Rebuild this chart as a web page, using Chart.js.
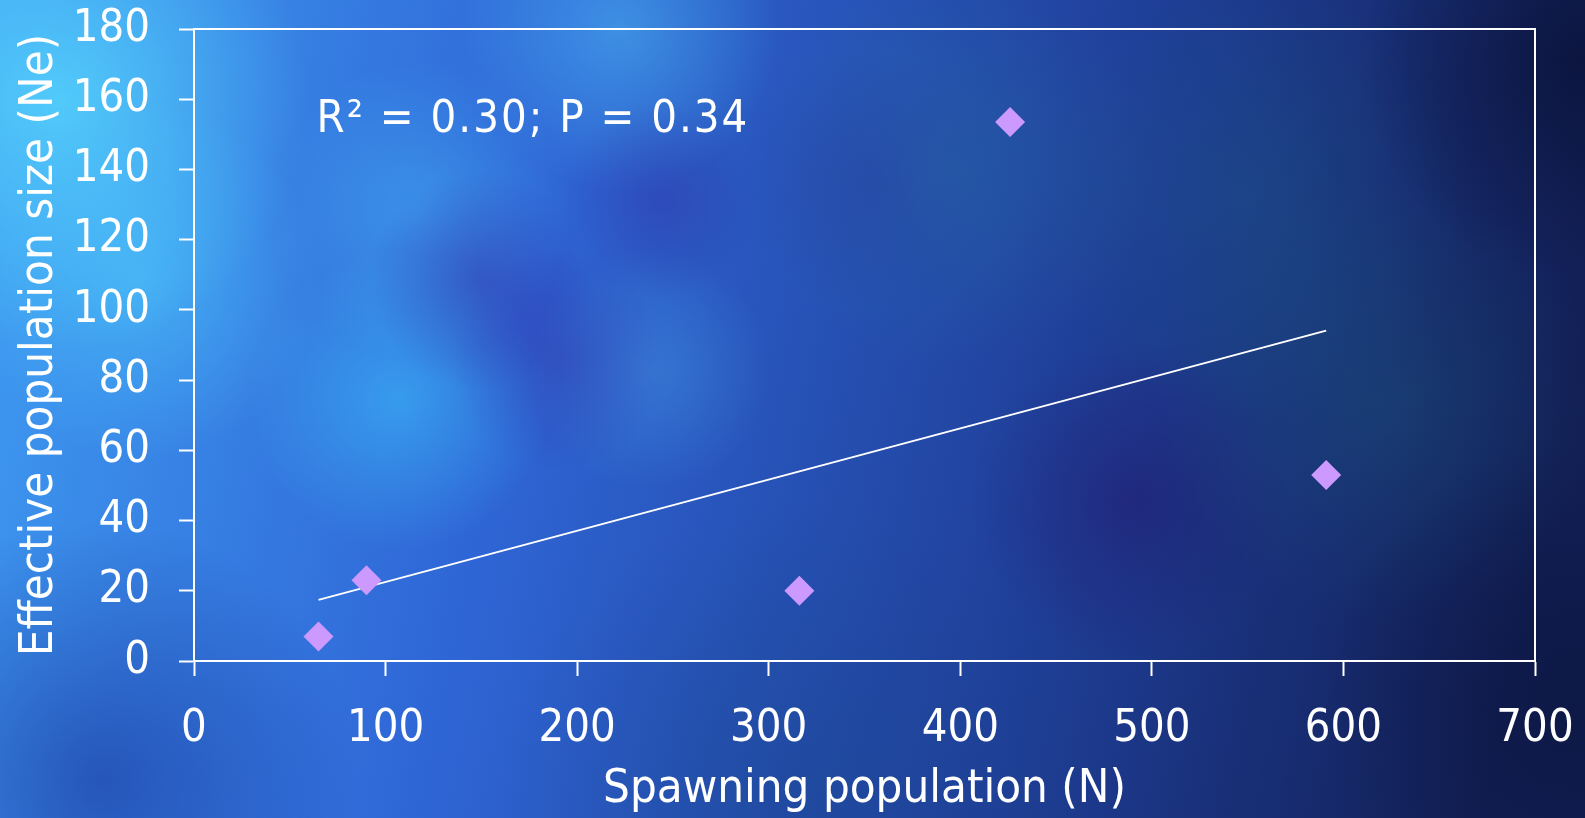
<!DOCTYPE html>
<html>
<head>
<meta charset="utf-8">
<script src="https://cdn.jsdelivr.net/npm/chart.js@4.4.1/dist/chart.umd.min.js"></script>
<style>
  html, body { margin: 0; padding: 0; background: #1c3a9a; }
  #wrap { width: 1585px; height: 818px; position: relative; }
</style>
</head>
<body>
<div id="wrap"><canvas id="myChart"></canvas></div>
<script>
// data
const N_VALUES = [65, 90, 316, 426, 591];
const NE_VALUES = [7, 23, 20, 153.5, 53];
const TREND_N = [65, 591];
const TREND_NE = [17.4, 94.1];
const X_TICKS = [0, 100, 200, 300, 400, 500, 600, 700];
const Y_TICKS = [0, 20, 40, 60, 80, 100, 120, 140, 160, 180];
const NOTE = 'R\u00b2 = 0.30; P = 0.34';
const NOTE_AT = { x: 64, y: 154 };

const FONT = "'DejaVu Sans Condensed', 'Liberation Sans', sans-serif";
const WHITE = '#ffffff';

const ctx = document.getElementById('myChart');

// painted backdrop, blue cloudy texture
const backdrop = {
  id: 'backdrop',
  beforeDraw(chart) {
    const c = chart.ctx;
    const w = chart.width, h = chart.height;
    c.save();
    let g = c.createLinearGradient(0, 0, w, h * 0.4);
    g.addColorStop(0, '#3f9cf2');
    g.addColorStop(0.35, '#2f66d6');
    g.addColorStop(0.7, '#1f3f98');
    g.addColorStop(1, '#121f55');
    c.fillStyle = g;
    c.fillRect(0, 0, w, h);

    const blobs = [
      [60, 100, 250, 'rgba(90,225,255,0.7)'],
      [140, 280, 180, 'rgba(80,210,255,0.5)'],
      [400, 400, 150, 'rgba(60,200,255,0.5)'],
      [420, 210, 150, 'rgba(70,190,250,0.4)'],
      [650, 370, 120, 'rgba(80,180,240,0.3)'],
      [620, 30, 160, 'rgba(80,200,250,0.45)'],
      [480, 280, 110, 'rgba(50,40,160,0.4)'],
      [560, 360, 110, 'rgba(50,40,160,0.35)'],
      [660, 200, 100, 'rgba(50,40,160,0.35)'],
      [870, 180, 130, 'rgba(40,40,150,0.3)'],
      [1130, 500, 160, 'rgba(35,25,110,0.5)'],
      [950, 170, 200, 'rgba(40,120,160,0.3)'],
      [1250, 200, 220, 'rgba(30,100,140,0.3)'],
      [1380, 400, 220, 'rgba(30,100,130,0.3)'],
      [100, 780, 260, 'rgba(20,40,140,0.5)'],
      [800, 800, 300, 'rgba(25,70,140,0.4)'],
      [1580, 60, 220, 'rgba(8,15,50,0.7)'],
      [1580, 700, 260, 'rgba(10,20,60,0.6)']
    ];
    blobs.forEach(b => {
      const r = c.createRadialGradient(b[0], b[1], 0, b[0], b[1], b[2]);
      r.addColorStop(0, b[3]);
      r.addColorStop(1, b[3].replace(/[\d.]+\)$/, '0)'));
      c.fillStyle = r;
      c.fillRect(0, 0, w, h);
    });
    c.restore();
  }
};

// top/right frame and the text note
const frame = {
  id: 'frame',
  afterDatasetsDraw(chart) {
    const a = chart.chartArea;
    const c = chart.ctx;
    c.save();
    c.strokeStyle = WHITE;
    c.lineWidth = 2;
    c.beginPath();
    c.moveTo(a.left, a.top);
    c.lineTo(a.right, a.top);
    c.lineTo(a.right, a.bottom);
    c.stroke();
    c.fillStyle = WHITE;
    c.font = '45px ' + FONT;
    c.letterSpacing = '2px';
    c.textBaseline = 'middle';
    c.fillText(NOTE, chart.scales.x.getPixelForValue(NOTE_AT.x), chart.scales.y.getPixelForValue(NOTE_AT.y));
    c.restore();
  }
};

window.myChart = new Chart(ctx, {
  type: 'scatter',
  data: {
    datasets: [{
      label: 'Ne',
      data: N_VALUES.map((n, i) => ({ x: n, y: NE_VALUES[i] })),
      pointStyle: 'rectRot',
      pointRadius: 15,
      pointHoverRadius: 15,
      borderWidth: 0,
      backgroundColor: '#cc99ff',
      order: 1
    }, {
      label: 'trend',
      type: 'line',
      data: TREND_N.map((n, i) => ({ x: n, y: TREND_NE[i] })),
      borderColor: WHITE,
      borderWidth: 2,
      pointRadius: 0,
      fill: false,
      order: 2
    }]
  },
  options: {
    responsive: true,
    maintainAspectRatio: false,
    animation: false,
    layout: { padding: { left: 0, top: 29, right: 50, bottom: 0 } },
    plugins: {
      legend: { display: false },
      tooltip: { enabled: false }
    },
    scales: {
      x: {
        type: 'linear',
        min: 0, max: 700,
        afterBuildTicks: s => { s.ticks = X_TICKS.map(v => ({ value: v })); },
        afterFit: s => { s.height = 157; s.paddingLeft = 0; s.paddingRight = 0; },
        border: { display: true, color: WHITE, width: 2 },
        grid: { drawOnChartArea: false, drawTicks: true, tickLength: 15, tickWidth: 2, color: WHITE },
        ticks: { color: WHITE, padding: 26, font: { family: FONT, size: 45 } },
        title: {
          display: true, text: 'Spawning population (N)', color: WHITE,
          font: { family: FONT, size: 47 }, padding: { top: 0, bottom: 0 }
        }
      },
      y: {
        type: 'linear',
        min: 0, max: 180,
        afterBuildTicks: s => { s.ticks = Y_TICKS.map(v => ({ value: v })); },
        afterFit: s => { s.width = 194; s.paddingTop = 0; s.paddingBottom = 0; },
        border: { display: true, color: WHITE, width: 2 },
        grid: { drawOnChartArea: false, drawTicks: true, tickLength: 15, tickWidth: 2, color: WHITE },
        ticks: { color: WHITE, padding: 29, font: { family: FONT, size: 45 } },
        title: {
          display: true, text: 'Effective population size (Ne)', color: WHITE,
          font: { family: FONT, size: 47 }, padding: { top: 12, bottom: 0 }
        }
      }
    }
  },
  plugins: [backdrop, frame]
});
</script>
</body>
</html>
